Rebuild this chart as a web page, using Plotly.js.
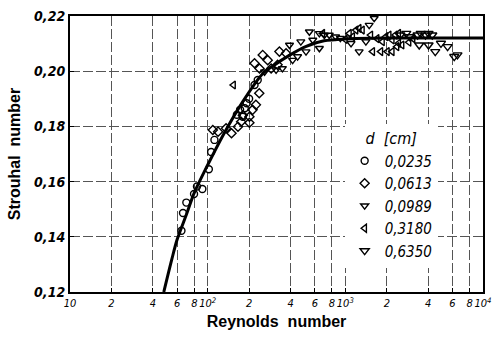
<!DOCTYPE html>
<html><head><meta charset="utf-8">
<script src="https://cdn.plot.ly/plotly-3.0.1.min.js"></script>
<style>html,body{margin:0;padding:0;background:#fff}#c{width:493px;height:339px}</style>
</head><body><div id="c"></div>
<script>
// Fitted curve
const curveRe = [48, 55, 60, 70, 80, 100, 130, 180, 250, 300, 400, 520, 700, 1000, 2000, 5000, 10000];
const curveSt = [0.120, 0.132, 0.139, 0.148, 0.156, 0.166, 0.177, 0.189, 0.199, 0.202, 0.206, 0.209, 0.211, 0.2117, 0.212, 0.212, 0.212];

// d = 0.0235 cm (circles)
const re0235 = [64.5, 66.2, 70, 79.6, 83.6, 91.5, 102, 106, 112, 163, 172, 180, 186, 192, 200, 219, 231];
const st0235 = [0.1422, 0.1486, 0.1524, 0.1555, 0.1582, 0.1573, 0.1645, 0.1707, 0.1751, 0.1842, 0.1860, 0.1835, 0.1866, 0.1884, 0.1900, 0.1950, 0.1968];

// d = 0.0613 cm (diamonds)
const re0613 = [109, 119, 136, 149, 166, 175, 180, 201, 212, 224, 237, 201, 219, 251, 273, 238, 289, 322, 332, 371];
const st0613 = [0.1787, 0.1781, 0.1793, 0.1775, 0.1799, 0.1817, 0.1840, 0.1835, 0.1860, 0.1878, 0.1920, 0.1813, 0.2029, 0.2059, 0.2040, 0.2010, 0.2010, 0.2023, 0.2071, 0.2065];

// d = 0.0989 cm (triangles down)
const re0989 = [259, 314, 349, 393, 414, 450, 475, 518, 548, 580, 648, 704, 648, 764, 850, 920, 1100, 1260, 1410, 1490, 1620];
const st0989 = [0.1998, 0.2005, 0.2010, 0.2095, 0.2040, 0.2053, 0.2107, 0.2071, 0.2143, 0.2113, 0.2137, 0.2131, 0.2083, 0.2131, 0.2125, 0.2120, 0.2101, 0.2071, 0.2107, 0.2167, 0.2192];

// d = 0.3180 cm (triangles left)
const re3180 = [154, 685, 1000, 1070, 1130, 1195, 1260, 1330, 1530, 1580, 1700, 1810, 1860, 1970, 2020, 2080, 2190, 2190, 2310, 2370, 2440, 2440, 2580, 2900, 3100];
const st3180 = [0.1950, 0.2137, 0.2115, 0.2137, 0.2125, 0.2149, 0.2155, 0.2149, 0.2131, 0.2071, 0.2118, 0.2071, 0.2107, 0.2125, 0.2071, 0.2131, 0.2113, 0.2071, 0.2131, 0.2089, 0.2137, 0.2101, 0.2095, 0.2105, 0.2118];

// d = 0.6350 cm
const re6350 = [2510, 2770, 2930, 3350, 3440, 3530, 3820, 4020, 4020, 4280, 4500, 4950, 5530, 6180, 6520];
const st6350 = [0.2131, 0.2137, 0.2125, 0.2131, 0.2095, 0.2137, 0.2131, 0.2137, 0.2095, 0.2131, 0.2071, 0.2101, 0.2089, 0.2053, 0.2059];

const xTickVals = [10, 20, 40, 60, 80, 100, 200, 400, 600, 800, 1000, 2000, 4000, 6000, 8000, 10000];
const xTickText = ['10', '2', '4', '6', '8', '10<sup>2</sup>', '2', '4', '6', '8', '10<sup>3</sup>', '2', '4', '6', '8', '10<sup>4</sup>'];
const yTickVals = [0.12, 0.14, 0.16, 0.18, 0.20, 0.22];
const yTickText = ['0,12', '0,14', '0,16', '0,18', '0,20', '0,22'];

const narrow = 'Liberation Sans Narrow, DejaVu Sans Condensed, Arial Narrow, sans-serif';
function mk(sym, size) {
  return {symbol: sym, size: size, color: 'rgba(255,255,255,0)', line: {color: '#000', width: 1.4}};
}
const traces = [
  {x: curveRe, y: curveSt, mode: 'lines', line: {color: '#000', width: 3, shape: 'spline', smoothing: 0.8}, showlegend: false, hoverinfo: 'skip'},
  {x: re0235, y: st0235, mode: 'markers', name: '0,0235', marker: mk('circle', 7)},
  {x: re0613, y: st0613, mode: 'markers', name: '0,0613', marker: mk('diamond', 7)},
  {x: re0989, y: st0989, mode: 'markers', name: '0,0989', marker: mk('triangle-down', 7)},
  {x: re3180, y: st3180, mode: 'markers', name: '0,3180', marker: mk('triangle-left', 7)},
  {x: re6350, y: st6350, mode: 'markers', name: '0,6350', marker: mk('triangle-down', 8)}
];
const layout = {
  width: 493, height: 339,
  margin: {l: 70, r: 10, t: 16, b: 47},
  paper_bgcolor: '#fff', plot_bgcolor: '#fff',
  showlegend: true,
  legend: {
    x: 0.665, y: 0.61, xanchor: 'left', yanchor: 'top',
    bgcolor: '#fff', borderwidth: 0,
    font: {family: narrow, size: 15, style: 'italic', color: '#000'},
    title: {text: 'd  [cm]', side: 'top center', font: {family: narrow, size: 16, style: 'italic', color: '#000'}},
    itemsizing: 'trace', itemwidth: 30, tracegroupgap: 0
  },
  xaxis: {
    type: 'log', range: [1, 4],
    tickmode: 'array', tickvals: xTickVals, ticktext: xTickText,
    tickangle: 0, ticklabeloverflow: 'allow',
    tickfont: {family: narrow, size: 11, style: 'italic', color: '#000'},
    showgrid: true, gridcolor: '#555', gridwidth: 1, griddash: '10px,3px',
    showline: true, linecolor: '#000', linewidth: 2, mirror: true,
    ticks: 'inside', ticklen: 4, tickcolor: '#000',
    zeroline: false,
    title: {text: 'Reynolds  number', font: {family: 'Liberation Sans, Arial, sans-serif', size: 16, weight: 'bold', color: '#000'}, standoff: 7}
  },
  yaxis: {
    range: [0.12, 0.22],
    tickmode: 'array', tickvals: yTickVals, ticktext: yTickText,
    tickfont: {family: narrow, size: 14, style: 'italic', weight: 'bold', color: '#000'},
    showgrid: true, gridcolor: '#555', gridwidth: 1, griddash: '10px,3px',
    showline: true, linecolor: '#000', linewidth: 2, mirror: true,
    ticks: 'inside', ticklen: 4, tickcolor: '#000',
    zeroline: false,
    title: {text: 'Strouhal  number', font: {family: 'Liberation Sans, Arial, sans-serif', size: 16, weight: 'bold', color: '#000'}, standoff: 10}
  }
};
Plotly.newPlot('c', traces, layout, {staticPlot: true, displayModeBar: false});
</script></body></html>
